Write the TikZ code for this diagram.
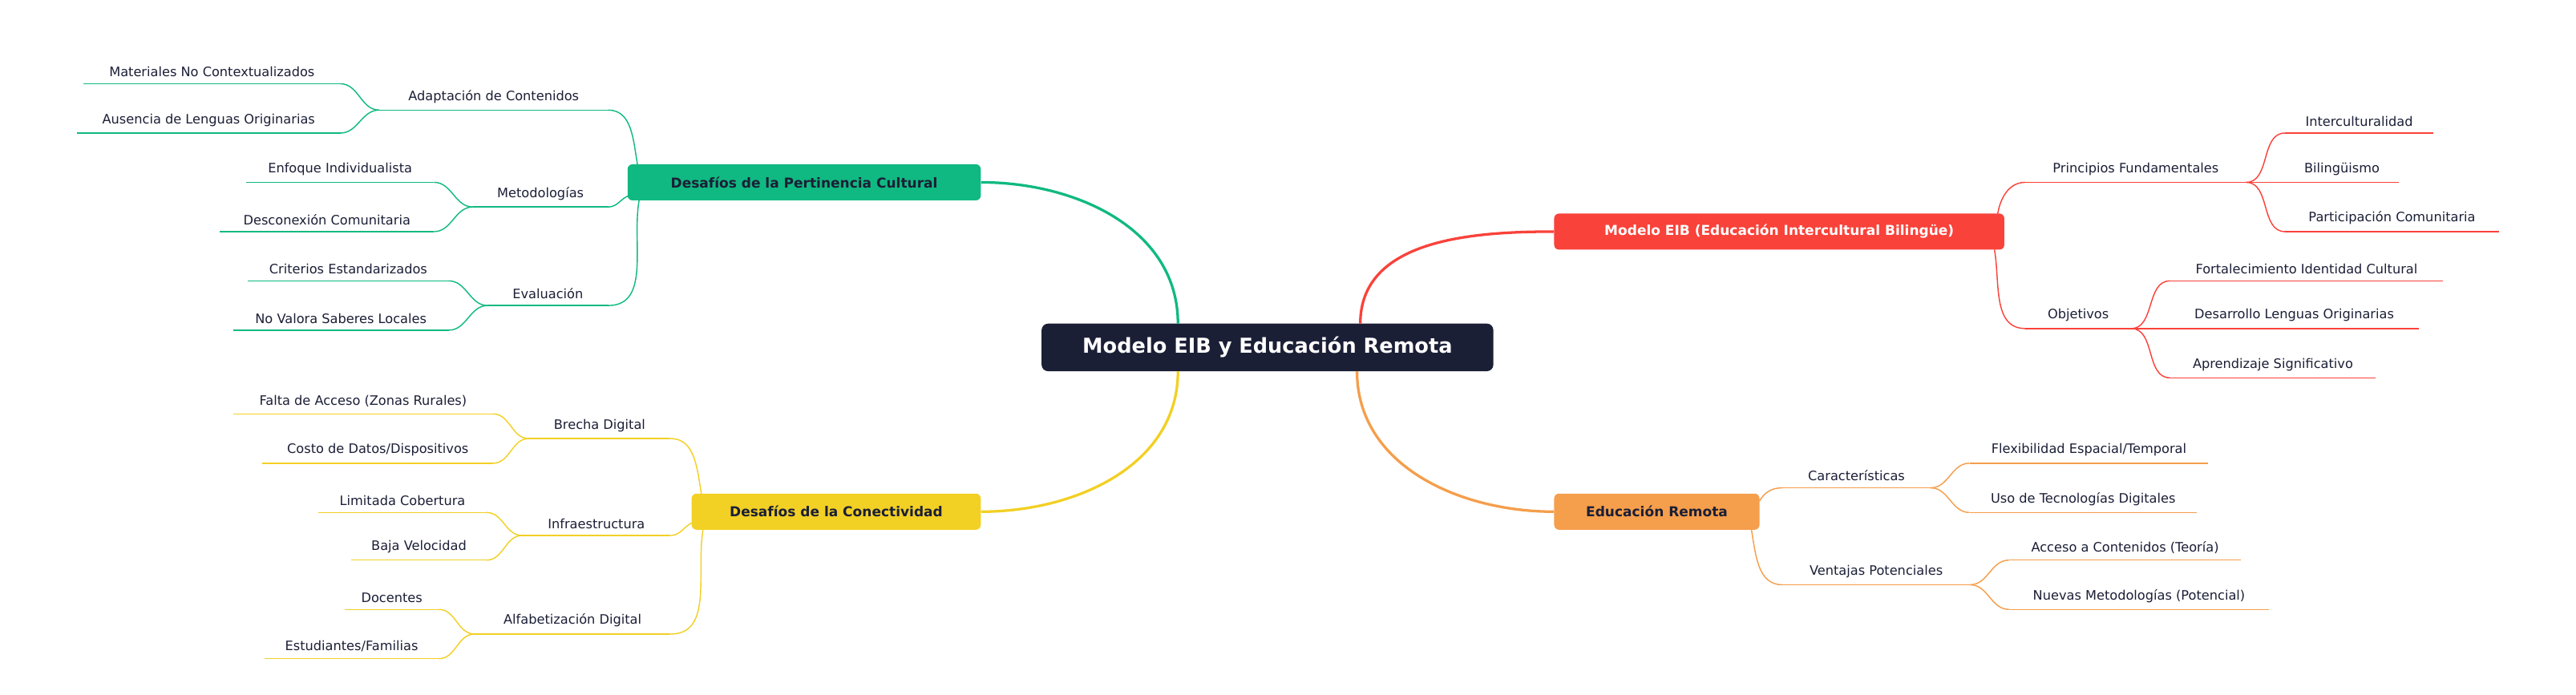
\documentclass[tikz,border=0pt]{standalone}
\usepackage{fontspec}
\setmainfont{DejaVu Sans}
\definecolor{navy}{HTML}{1B1F36}
\definecolor{cgreen}{HTML}{10B981}
\definecolor{cred}{HTML}{F9423A}
\definecolor{corange}{HTML}{F59E4B}
\definecolor{cyellow}{HTML}{F2D024}
\newcommand\myleaf[6]{%
  \pgfmathsetmacro\lw{#4-#3}%
  \node[leafnode,minimum width=\lw pt,anchor=south] (#1) at ({(#3+#4)/2},#5) {#6};
  \draw[thinline,#2] (#1.south west)--(#1.south east);}
\begin{document}
\begin{tikzpicture}[x=1pt,y=-1pt,
  leafnode/.style={inner xsep=0pt,inner ysep=4pt,font=\fontsize{7.9}{9}\selectfont,text=navy},
  thinline/.style={line width=0.7pt},
  mainline/.style={line width=1.6pt},
  catbox/.style={rounded corners=3pt,inner sep=0pt,font=\bfseries\fontsize{8.3}{10}\selectfont},
  ]
\useasboundingbox (0,0) rectangle (1568,423);
% center
\node[fill=navy,rounded corners=4pt,minimum width=275pt,minimum height=29pt,inner sep=0pt,text=white,font=\bfseries\fontsize{12.5}{15}\selectfont] (c) at (771.5,211.5) {Modelo EIB y Educación Remota};
% categories
\node[catbox,fill=cgreen,text=navy,minimum width=215pt,minimum height=22pt] (g) at (489.5,111) {Desafíos de la Pertinencia Cultural};
\node[catbox,fill=cred,text=white,minimum width=274pt,minimum height=22pt] (r) at (1083,141) {Modelo EIB (Educación Intercultural Bilingüe)};
\node[catbox,fill=corange,text=navy,minimum width=125pt,minimum height=22pt] (o) at (1008.5,311.5) {Educación Remota};
\node[catbox,fill=cyellow,text=navy,minimum width=176pt,minimum height=22pt] (y) at (509,311.5) {Desafíos de la Conectividad};
\coordinate (cgA) at (717,197);
\coordinate (crA) at (828,197);
\coordinate (cyA) at (717,226);
\coordinate (coA) at (826,226);
\draw[mainline,cgreen] (cgA) to[out=90,in=0] (g.east);
\draw[mainline,cred] (crA) to[out=90,in=180] (r.west);
\draw[mainline,cyellow] (cyA) to[out=-90,in=0] (y.east);
\draw[mainline,corange] (coA) to[out=-90,in=180] (o.west);
% green
\myleaf{g1}{cgreen}{231}{370}{67}{Adaptación de Contenidos}
\myleaf{g2}{cgreen}{288}{370}{126}{Metodologías}
\myleaf{g3}{cgreen}{297}{370}{186}{Evaluación}
\myleaf{g11}{cgreen}{51}{207}{51}{Materiales No Contextualizados}
\myleaf{g12}{cgreen}{47}{207}{81}{Ausencia de Lenguas Originarias}
\myleaf{g21}{cgreen}{150}{264}{111}{Enfoque Individualista}
\myleaf{g22}{cgreen}{134}{264}{141}{Desconexión Comunitaria}
\myleaf{g31}{cgreen}{151}{273}{171}{Criterios Estandarizados}
\myleaf{g32}{cgreen}{142}{273}{201}{No Valora Saberes Locales}
\coordinate (gA) at (388,100);
\coordinate (gB) at (383,119);
\coordinate (gC) at (389,122);
\draw[thinline,cgreen] (g1.south east) to[out=0,in=100] (gA);
\draw[thinline,cgreen] (g2.south east) to[out=0,in=200] (gB);
\draw[thinline,cgreen] (g3.south east) to[out=0,in=-100] (gC);
\foreach \a/\b in {g11/g1,g12/g1,g21/g2,g22/g2,g31/g3,g32/g3}
  \draw[thinline,cgreen] (\a.south east) to[out=0,in=180] (\b.south west);
% yellow
\myleaf{y1}{cyellow}{322}{408}{267}{Brecha Digital}
\myleaf{y2}{cyellow}{318}{408}{326}{Infraestructura}
\myleaf{y3}{cyellow}{289}{408}{386}{Alfabetización Digital}
\myleaf{y11}{cyellow}{142}{300}{252}{Falta de Acceso (Zonas Rurales)}
\myleaf{y12}{cyellow}{160}{300}{282}{Costo de Datos/Dispositivos}
\myleaf{y21}{cyellow}{194}{296}{312}{Limitada Cobertura}
\myleaf{y22}{cyellow}{214}{296}{341}{Baja Velocidad}
\myleaf{y31}{cyellow}{210}{267}{371}{Docentes}
\myleaf{y32}{cyellow}{161}{267}{401}{Estudiantes/Familias}
\coordinate (yA) at (427,301);
\coordinate (yB) at (422,318);
\coordinate (yC) at (428,322);
\draw[thinline,cyellow] (y1.south east) to[out=0,in=100] (yA);
\draw[thinline,cyellow] (y2.south east) to[out=0,in=200] (yB);
\draw[thinline,cyellow] (y3.south east) to[out=0,in=-100] (yC);
\foreach \a/\b in {y11/y1,y12/y1,y21/y2,y22/y2,y31/y3,y32/y3}
  \draw[thinline,cyellow] (\a.south east) to[out=0,in=180] (\b.south west);
% red
\myleaf{r1}{cred}{1233}{1367}{111}{Principios Fundamentales}
\myleaf{r2}{cred}{1233}{1297}{200}{Objetivos}
\myleaf{r11}{cred}{1391}{1481}{81}{Interculturalidad}
\myleaf{r12}{cred}{1391}{1460}{111}{Bilingüismo}
\myleaf{r13}{cred}{1391}{1521}{141}{Participación Comunitaria}
\myleaf{r21}{cred}{1321}{1487}{171}{Fortalecimiento Identidad Cultural}
\myleaf{r22}{cred}{1321}{1472}{200}{Desarrollo Lenguas Originarias}
\myleaf{r23}{cred}{1321}{1446}{230}{Aprendizaje Significativo}
\coordinate (rA) at (1216,130);
\coordinate (rB) at (1214,152);
\draw[thinline,cred] (rA) to[out=80,in=180] (r1.south west);
\draw[thinline,cred] (rB) to[out=-80,in=180] (r2.south west);
\foreach \a/\b in {r11/r1,r12/r1,r13/r1,r21/r2,r22/r2,r23/r2}
  \draw[thinline,cred] (\b.south east) to[out=0,in=180] (\a.south west);
% orange
\myleaf{o1}{corange}{1085}{1175}{297}{Características}
\myleaf{o2}{corange}{1085}{1199}{356}{Ventajas Potenciales}
\myleaf{o11}{corange}{1199}{1344}{282}{Flexibilidad Espacial/Temporal}
\myleaf{o12}{corange}{1199}{1337}{312}{Uso de Tecnologías Digitales}
\myleaf{o21}{corange}{1223}{1364}{341}{Acceso a Contenidos (Teoría)}
\myleaf{o22}{corange}{1223}{1381}{371}{Nuevas Metodologías (Potencial)}
\coordinate (oA) at (1071,305);
\coordinate (oB) at (1066,322);
\draw[thinline,corange] (oA) to[out=60,in=180] (o1.south west);
\draw[thinline,corange] (oB) to[out=-80,in=180] (o2.south west);
\foreach \a/\b in {o11/o1,o12/o1,o21/o2,o22/o2}
  \draw[thinline,corange] (\b.south east) to[out=0,in=180] (\a.south west);
\end{tikzpicture}
\end{document}
